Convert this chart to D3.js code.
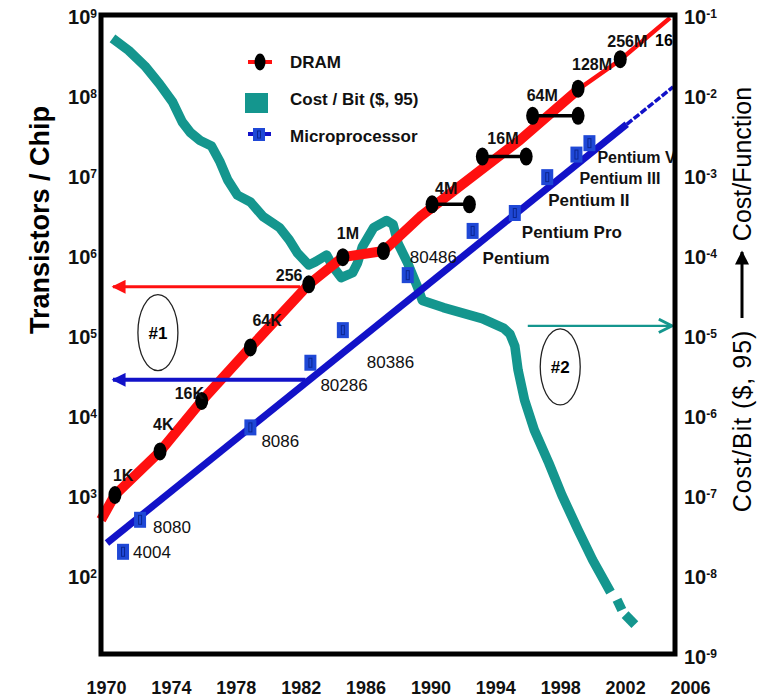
<!DOCTYPE html>
<html><head><meta charset="utf-8">
<script src="https://cdn.jsdelivr.net/npm/d3@7"></script>
<style>
body{margin:0;background:#fff;}
svg{display:block;font-family:"Liberation Sans",Arial,sans-serif;}
</style></head><body>
<svg id="chart" width="762" height="698"></svg>
<script>
// ---------- data ----------
const yearTicks = [1970,1974,1978,1982,1986,1990,1994,1998,2002,2006];
const leftExponents = [2,3,4,5,6,7,8,9];
const rightExponents = [-1,-2,-3,-4,-5,-6,-7,-8,-9];

const dramLabels   = ["1K","4K","16K","64K","256","1M","","4M","16M","64M","128M","256M"];
const dramYears    = [1970.55,1973.33,1975.9,1978.9,1982.5,1984.6,1987.1,1990.1,1993.2,1996.3,1999.1,2001.7];
const dramBarEnds  = [null,null,null,null,null,null,null,1992.4,1995.9,1999.1,null,null];
const dramValues   = [1000,3500,15000,70000,430000,940000,1.12e6,4.3e6,1.7e7,5.5e7,1.2e8,2.8e8];

const dramTrendYears  = [1969.7,1970.55,1973.33,1975.9,1978.9,1982.5,1984.6,1987.1,1989.36,1995.52,1999.22];
const dramTrendValues = [490,1000,3500,15000,70000,430000,940000,1.12e6,3.0e6,2.74e7,1.22e8];
const dramThinYears   = [1999.22,2001.69,2004.77];
const dramThinValues  = [1.22e8,2.74e8,9.2e8];

const cpuNames  = ["4004","8080","8086","80286","80386","80486","Pentium","Pentium Pro","Pentium II","Pentium III","Pentium V"];
const cpuYears  = [1971.05,1972.1,1978.9,1982.6,1984.6,1988.6,1992.6,1995.2,1997.2,1999.0,1999.8];
const cpuValues = [195,490,7000,45000,115000,560000,2.0e6,3.35e6,9.4e6,1.8e7,2.5e7];

const cpuTrendYears  = [1970.06,2002.1];
const cpuTrendValues = [251,4.3e7];
const cpuThinYears   = [2002.1,2004.96];
const cpuThinValues  = [4.3e7,1.26e8];

const costYears  = [1970.4,1971.4,1972.4,1973.3,1974.1,1974.7,1975.2,1975.8,1976.5,1977.0,1977.5,1978.1,1978.9,1979.7,1980.7,1981.3,1981.8,1982.5,1982.9,1983.6,1984.0,1984.5,1985.2,1985.5,1985.8,1986.5,1987.3,1987.7,1988.0,1988.6,1989.2,1989.5,1990.8,1993.2,1994.5,1994.9,1995.2,1995.4,1995.8,1996.4,1997.3,1998.1,1999.1,2000.0,2001.1];
const costValues = [0.051,0.036,0.023,0.0137,0.0082,0.0046,0.0034,0.0027,0.0023,0.0015,8.7e-4,5.6e-4,4.6e-4,3.0e-4,2.2e-4,1.54e-4,1.06e-4,7.5e-5,8.2e-5,1.0e-4,7.1e-5,5.2e-5,6.0e-5,7.9e-5,1.26e-4,2.2e-4,2.7e-4,2.4e-4,1.4e-4,7.9e-5,4.0e-5,2.7e-5,2.2e-5,1.6e-5,1.22e-5,1.03e-5,7.3e-6,3.65e-6,1.54e-6,6.5e-7,2.5e-7,1.0e-7,3.65e-8,1.54e-8,6.1e-9];
const costTailYears  = [2001.5,2001.8,2002.0,2002.6];
const costTailValues = [4.9e-9,3.65e-9,3.2e-9,2.4e-9];

const legendItems = ["DRAM","Cost / Bit ($, 95)","Microprocessor"];

// ---------- layout ----------
const frame = {l:101, t:15, r:675, b:654};
const RED = "#ff1010", BLUE = "#1212c8", TEAL = "#14968e", MBLUE = "#1f48d6";

const svg = d3.select("#chart");
const x  = d3.scaleLinear().domain([1970,2006]).range([106,690]);
const yL = d3.scaleLog().domain([10,1e9]).range([655,15]);
const yR = d3.scaleLog().domain([1e-9,1e-1]).range([655,15]);

const defs = svg.append("defs");
function tri(id,color){
  defs.append("marker").attr("id",id).attr("viewBox","0 0 10 10").attr("refX",9).attr("refY",5)
    .attr("markerUnits","userSpaceOnUse").attr("markerWidth",16).attr("markerHeight",14).attr("orient","auto")
    .append("path").attr("d","M0,0L10,5L0,10Z").attr("fill",color);
}
tri("arR",RED); tri("arB",BLUE); tri("arK","#000");
defs.append("marker").attr("id","arT").attr("viewBox","0 0 12 12").attr("refX",11).attr("refY",6)
  .attr("markerUnits","userSpaceOnUse").attr("markerWidth",16).attr("markerHeight",16).attr("orient","auto")
  .append("path").attr("d","M1,1L11,6L1,11").attr("fill","none").attr("stroke",TEAL).attr("stroke-width",2.2);

// ---------- series lines ----------
const lineL = d3.line().x(d=>x(d[0])).y(d=>yL(d[1]));
const lineR = d3.line().x(d=>x(d[0])).y(d=>yR(d[1]));
const zip = (a,b)=>a.map((v,i)=>[v,b[i]]);

svg.append("path").attr("d",lineR(zip(costYears,costValues)))
  .attr("fill","none").attr("stroke",TEAL).attr("stroke-width",9.5).attr("stroke-linejoin","round");
for(let i=0;i<costTailYears.length;i+=2){
  svg.append("path").attr("d",lineR([[costTailYears[i],costTailValues[i]],[costTailYears[i+1],costTailValues[i+1]]]))
    .attr("fill","none").attr("stroke",TEAL).attr("stroke-width",9.5);
}

svg.append("path").attr("d",lineL(zip(cpuTrendYears,cpuTrendValues)))
  .attr("fill","none").attr("stroke",BLUE).attr("stroke-width",7);
svg.append("path").attr("d",lineL(zip(cpuThinYears,cpuThinValues)))
  .attr("fill","none").attr("stroke",BLUE).attr("stroke-width",3.5).attr("stroke-dasharray","7,2");

svg.append("path").attr("d",lineL(zip(dramTrendYears,dramTrendValues)))
  .attr("fill","none").attr("stroke",RED).attr("stroke-width",10).attr("stroke-linejoin","round");
svg.append("path").attr("d",lineL(zip(dramThinYears,dramThinValues)))
  .attr("fill","none").attr("stroke",RED).attr("stroke-width",4.5);

// CPU markers
const cpu = svg.append("g").selectAll("g").data(cpuNames.map((n,i)=>({n,yr:cpuYears[i],v:cpuValues[i]})))
  .join("g").attr("transform",d=>`translate(${x(d.yr)},${yL(d.v)})`);
cpu.append("rect").attr("x",-6).attr("y",-8).attr("width",12).attr("height",16).attr("fill",MBLUE);
cpu.append("rect").attr("x",-1.5).attr("y",-4.5).attr("width",3).attr("height",9).attr("fill","none").attr("stroke","#0b2690").attr("stroke-width",1);

// CPU labels
const cpuOff = [[10,6],[13,13],[11,20],[10,28],[24,38],[2,-12],[10,33],[7,25],[1,29],[3,29],[8,20]];
const cpuSize = [17,17,17,17,17,17,17,17,17,16,16];
svg.append("g").selectAll("text").data(cpuNames).join("text")
  .attr("x",(d,i)=>x(cpuYears[i])+cpuOff[i][0]).attr("y",(d,i)=>yL(cpuValues[i])+cpuOff[i][1])
  .attr("font-size",(d,i)=>cpuSize[i]).attr("font-weight",d=>d.startsWith("P")?"bold":"normal")
  .attr("fill","#111").text(d=>d);

// DRAM bars + markers
const dram = dramLabels.map((n,i)=>({n,yr:dramYears[i],end:dramBarEnds[i],v:dramValues[i]}));
svg.append("g").selectAll("line").data(dram.filter(d=>d.end!==null)).join("line")
  .attr("x1",d=>x(d.yr)).attr("x2",d=>x(d.end)).attr("y1",d=>yL(d.v)).attr("y2",d=>yL(d.v))
  .attr("stroke","#000").attr("stroke-width",3.5);
const ell = [];
dram.forEach(d=>{ ell.push([d.yr,d.v]); if(d.end!==null) ell.push([d.end,d.v]); });
svg.append("g").selectAll("ellipse").data(ell).join("ellipse")
  .attr("cx",d=>x(d[0])).attr("cy",d=>yL(d[1])).attr("rx",6.5).attr("ry",9).attr("fill","#000");

const dramOff = [[-2,-14],[-7,-21],[-27,-2],[2,-21],[-33,-3],[-6,-18],[0,0],[3,-10],[5,-13],[-6,-15],[-6,-19],[-13,-12]];
svg.append("g").selectAll("text").data(dram).join("text")
  .attr("x",(d,i)=>x(d.yr)+dramOff[i][0]).attr("y",(d,i)=>yL(d.v)+dramOff[i][1])
  .attr("font-size",16).attr("font-weight","bold").attr("fill","#111").text(d=>d.n);
svg.append("text").attr("x",664).attr("y",46).attr("text-anchor","middle").attr("font-size",16).attr("font-weight","bold").text("16");

// ---------- annotations ----------
svg.append("line").attr("x1",x(1981.96)).attr("x2",x(1970.43)).attr("y1",yL(4e5)).attr("y2",yL(4e5))
  .attr("stroke",RED).attr("stroke-width",3).attr("marker-end","url(#arR)");
svg.append("line").attr("x1",x(1982.3)).attr("x2",x(1970.43)).attr("y1",yL(2.75e4)).attr("y2",yL(2.75e4))
  .attr("stroke",BLUE).attr("stroke-width",4).attr("marker-end","url(#arB)");
svg.append("line").attr("x1",x(1996.0)).attr("x2",x(2004.9)).attr("y1",yR(1.3e-5)).attr("y2",yR(1.3e-5))
  .attr("stroke",TEAL).attr("stroke-width",2.2).attr("marker-end","url(#arT)");

[[1973.2,1.07e5,"#1",yL],[1998.0,4e-6,"#2",yR]].forEach(([yr,v,t,s])=>{
  svg.append("ellipse").attr("cx",x(yr)).attr("cy",s(v)).attr("rx",20).attr("ry",38)
    .attr("fill","none").attr("stroke","#222").attr("stroke-width",1.3);
  svg.append("text").attr("x",x(yr)).attr("y",s(v)).attr("dy","0.35em").attr("text-anchor","middle")
    .attr("font-size",17).attr("font-weight","bold").text(t);
});

// ---------- frame ----------
svg.append("rect").attr("x",frame.l).attr("y",frame.t).attr("width",frame.r-frame.l).attr("height",frame.b-frame.t)
  .attr("fill","none").attr("stroke","#000").attr("stroke-width",5);

// ---------- axes ----------
function supLabels(g, fs){
  g.select(".domain").remove();
  g.attr("font-family",null).attr("font-size",null);
  g.selectAll(".tick line").remove();
  g.selectAll(".tick text").each(function(d){
    const t = d3.select(this);
    const e = Math.round(Math.log10(d));
    t.text(null).attr("fill","#111").attr("font-weight","bold").attr("font-size",fs).attr("dy","0.4em");
    t.append("tspan").text("10");
    t.append("tspan").attr("dy","-0.5em").attr("font-size",Math.round(fs*0.6)).text(e);
  });
}
const gL = svg.append("g").attr("transform","translate(97,0)")
  .call(d3.axisLeft(yL).tickValues(leftExponents.map(e=>Math.pow(10,e))).tickSize(0).tickPadding(0));
supLabels(gL,20);
const gR = svg.append("g").attr("transform","translate(684,0)")
  .call(d3.axisRight(yR).tickValues(rightExponents.map(e=>Math.pow(10,e))).tickSize(0).tickPadding(0));
supLabels(gR,20);
const gB = svg.append("g").attr("transform","translate(0,681)")
  .call(d3.axisBottom(x).tickValues(yearTicks).tickFormat(d3.format("d")).tickSize(0).tickPadding(0));
gB.select(".domain").remove();
gB.attr("font-family",null).attr("font-size",null);
gB.selectAll(".tick text").attr("font-size",18).attr("font-weight","bold").attr("fill","#111");

// axis titles
svg.append("text").attr("transform","translate(40,220) rotate(-90)").attr("text-anchor","middle")
  .attr("dy","0.35em").attr("font-size",27).attr("font-weight","bold").text("Transistors / Chip");
svg.append("text").attr("transform","translate(742,421) rotate(-90)").attr("text-anchor","middle")
  .attr("dy","0.35em").attr("font-size",25).attr("letter-spacing",1).text("Cost/Bit ($, 95)");
svg.append("text").attr("transform","translate(742,164) rotate(-90)").attr("text-anchor","middle")
  .attr("dy","0.35em").attr("font-size",25).text("Cost/Function");
svg.append("line").attr("x1",742).attr("x2",742).attr("y1",318).attr("y2",252)
  .attr("stroke","#000").attr("stroke-width",3).attr("marker-end","url(#arK)");

// ---------- legend ----------
const lg = svg.append("g");
lg.append("line").attr("x1",248).attr("x2",272).attr("y1",62).attr("y2",62).attr("stroke",RED).attr("stroke-width",4);
lg.append("ellipse").attr("cx",260).attr("cy",62).attr("rx",5.5).attr("ry",8.5).attr("fill","#000");
lg.append("rect").attr("x",245).attr("y",93).attr("width",23).attr("height",20).attr("fill",TEAL);
lg.append("line").attr("x1",248).attr("x2",271).attr("y1",134).attr("y2",134).attr("stroke",BLUE).attr("stroke-width",4);
lg.append("rect").attr("x",253).attr("y",128).attr("width",12).attr("height",13).attr("fill",MBLUE);
lg.append("rect").attr("x",257.5).attr("y",131).attr("width",3).attr("height",7).attr("fill","none").attr("stroke","#0b2690");
lg.selectAll("text").data(legendItems).join("text")
  .attr("x",290).attr("y",(d,i)=>[68,105,142][i]).attr("font-size",17).attr("font-weight","bold").attr("fill","#111").text(d=>d);
</script>
</body></html>
